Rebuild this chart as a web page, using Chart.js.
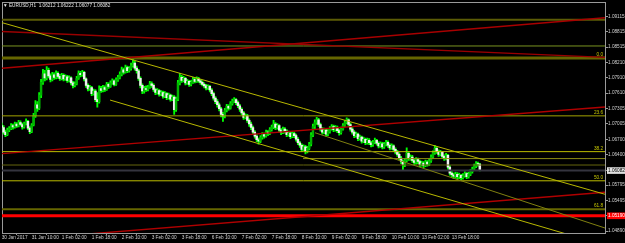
<!DOCTYPE html>
<html><head><meta charset="utf-8">
<script src="https://cdn.jsdelivr.net/npm/chart.js@4.4.1/dist/chart.umd.min.js"></script>
<style>html,body{margin:0;padding:0;background:#000;overflow:hidden}canvas{display:block}</style>
</head><body>
<canvas id="c" width="625" height="243"></canvas>
<script>
// ---- data (EURUSD H1, first bar 30 Jan 2017 18:00) ----
const symbolTitle = "\u25BC EURUSD,H1  1.06212 1.06222 1.06077 1.06082";
const opens = [
1.0697,1.0693,1.0684,1.0679,1.0688,1.0691,1.0697,1.0694,1.0700,1.0696,1.0703,1.0699,1.0694,1.0701,1.0705,1.0692,1.0685,1.0698,
1.0716,1.0738,1.0731,1.0757,1.0782,1.0799,
1.0791,1.0806,1.0795,1.0788,1.0797,1.0792,1.0800,1.0794,1.0790,1.0796,1.0789,1.0793,1.0786,1.0791,1.0781,1.0776,1.0779,1.0790,1.0800,1.0797,
1.0802,1.0789,1.0776,1.0769,1.0772,1.0760,1.0765,1.0748,1.0744,
1.0770,1.0766,1.0772,1.0768,1.0778,1.0774,1.0781,1.0785,1.0778,1.0787,
1.0792,1.0798,1.0807,1.0802,1.0811,1.0805,1.0809,1.0815,1.0820,1.0810,
1.0805,1.0790,1.0776,1.0765,
1.0770,1.0768,1.0772,1.0779,1.0776,1.0768,1.0762,1.0766,1.0759,1.0762,1.0755,1.0760,1.0752,1.0757,1.0749,
1.0753,1.0728,1.0749,1.0781,
1.0792,1.0786,1.0790,1.0781,1.0784,1.0778,1.0782,1.0788,1.0784,1.0789,1.0785,1.0782,1.0778,1.0775,1.0771,1.0774,
1.0767,1.0760,1.0751,1.0744,1.0738,1.0730,1.0719,
1.0716,1.0727,1.0735,1.0731,1.0740,1.0745,1.0748,1.0742,
1.0736,1.0729,1.0722,1.0713,1.0716,1.0707,
1.0700,1.0693,1.0684,1.0676,1.0669,1.0666,1.0673,1.0679,1.0676,1.0684,1.0681,1.0689,1.0694,1.0700,1.0693,1.0697,1.0688,1.0683,1.0690,1.0686,1.0679,1.0682,1.0675,1.0681,1.0677,
1.0670,1.0663,1.0658,1.0650,1.0655,1.0646,1.0652,
1.0660,1.0678,1.0695,1.0703,
1.0708,1.0699,1.0690,1.0684,1.0688,1.0680,1.0685,1.0691,1.0695,1.0689,1.0693,1.0687,1.0683,1.0690,
1.0697,1.0703,1.0708,
1.0699,1.0690,1.0684,1.0677,1.0680,1.0671,1.0674,1.0666,1.0670,
1.0663,1.0668,1.0663,1.0659,1.0664,1.0668,1.0662,1.0657,1.0661,1.0655,1.0660,1.0664,1.0658,1.0653,1.0657,
1.0650,1.0645,1.0640,1.0633,1.0626,1.0620,1.0628,1.0642,
1.0632,1.0635,1.0628,1.0624,1.0630,1.0626,1.0620,1.0623,1.0618,1.0625,1.0621,
1.0627,1.0635,1.0643,1.0652,
1.0646,1.0640,1.0644,1.0636,1.0632,
1.0638,1.0615,
1.0603,1.0600,1.0597,1.0601,1.0596,1.0599,1.0594,1.0598,1.0602,1.0596,1.0601,
1.0606,1.0611,1.0617,1.0622,1.06212];
const highs = [
1.0702,1.0697,1.0688,1.0692,1.0695,1.0701,1.0700,1.0704,1.0703,1.0707,
1.0706,1.0702,1.0704,1.0710,1.0707,1.0695,1.0701,1.0721,1.0746,1.0744,
1.0762,1.0788,1.0808,1.0806,1.0813,1.0810,1.0799,1.0802,1.0801,1.0805,
1.0803,1.0798,1.0800,1.0799,1.0797,1.0796,1.0795,1.0793,1.0784,1.0783,
1.0794,1.0805,1.0804,1.0806,1.0804,1.0791,1.0779,1.0776,1.0774,1.0769,
1.0768,1.0762,1.0775,1.0774,1.0776,1.0775,1.0782,1.0781,1.0785,1.0789,
1.0787,1.0791,1.0796,1.0803,1.0812,1.0810,1.0816,1.0814,1.0813,1.0820,
1.0829,1.0824,1.0814,1.0808,1.0793,1.0779,1.0774,1.0775,1.0776,1.0784,
1.0783,1.0779,1.0771,1.0770,1.0768,1.0766,1.0765,1.0764,1.0762,1.0761,
1.0759,1.0757,1.0756,1.0753,1.0786,1.0800,1.0796,1.0794,1.0792,1.0788,
1.0786,1.0786,1.0792,1.0791,1.0793,1.0792,1.0788,1.0785,1.0781,1.0778,
1.0777,1.0776,1.0770,1.0763,1.0754,1.0748,1.0741,1.0733,1.0723,1.0731,
1.0739,1.0738,1.0744,1.0749,1.0752,1.0750,1.0745,1.0739,1.0732,1.0725,
1.0720,1.0719,1.0710,1.0704,1.0696,1.0687,1.0679,1.0672,1.0677,1.0683,
1.0682,1.0688,1.0687,1.0693,1.0698,1.0707,1.0703,1.0701,1.0699,1.0691,
1.0694,1.0693,1.0689,1.0686,1.0684,1.0685,1.0684,1.0680,1.0673,1.0666,
1.0661,1.0659,1.0658,1.0656,1.0664,1.0683,1.0700,1.0708,1.0713,1.0711,
1.0702,1.0693,1.0692,1.0690,1.0689,1.0695,1.0699,1.0698,1.0697,1.0696,
1.0690,1.0694,1.0701,1.0707,1.0712,1.0710,1.0702,1.0693,1.0687,1.0684,
1.0682,1.0678,1.0676,1.0674,1.0672,1.0672,1.0671,1.0666,1.0668,1.0672,
1.0670,1.0665,1.0665,1.0664,1.0664,1.0668,1.0667,1.0661,1.0661,1.0659,
1.0653,1.0648,1.0643,1.0636,1.0629,1.0632,1.0653,1.0645,1.0639,1.0638,
1.0631,1.0634,1.0633,1.0629,1.0627,1.0626,1.0629,1.0628,1.0631,1.0639,
1.0647,1.0658,1.0655,1.0649,1.0648,1.0646,1.0639,1.0642,1.0640,1.0618,
1.0607,1.0603,1.0605,1.0604,1.0603,1.0601,1.0602,1.0606,1.0604,1.0605,
1.0610,1.0615,1.0621,1.0626,1.0625,1.06222];
const lows = [
1.0688,1.0680,1.0675,1.0677,1.0685,1.0689,1.0690,1.0692,1.0693,1.0694,
1.0696,1.0690,1.0692,1.0698,1.0689,1.0681,1.0683,1.0696,1.0713,1.0725,
1.0728,1.0752,1.0778,1.0785,1.0787,1.0791,1.0783,1.0785,1.0788,1.0789,
1.0790,1.0786,1.0787,1.0785,1.0786,1.0782,1.0783,1.0777,1.0771,1.0773,
1.0777,1.0788,1.0793,1.0794,1.0785,1.0772,1.0765,1.0766,1.0756,1.0757,
1.0744,1.0733,1.0741,1.0762,1.0763,1.0764,1.0766,1.0770,1.0772,1.0778,
1.0775,1.0776,1.0784,1.0789,1.0795,1.0798,1.0800,1.0801,1.0802,1.0806,
1.0812,1.0806,1.0800,1.0786,1.0771,1.0760,1.0761,1.0764,1.0765,1.0770,
1.0772,1.0764,1.0758,1.0759,1.0755,1.0756,1.0751,1.0752,1.0748,1.0749,
1.0745,1.0746,1.0719,1.0725,1.0746,1.0777,1.0782,1.0783,1.0777,1.0778,
1.0774,1.0775,1.0780,1.0781,1.0782,1.0782,1.0778,1.0775,1.0771,1.0767,
1.0768,1.0763,1.0756,1.0747,1.0740,1.0733,1.0726,1.0714,1.0705,1.0712,
1.0724,1.0727,1.0729,1.0737,1.0742,1.0738,1.0732,1.0725,1.0718,1.0709,
1.0710,1.0703,1.0695,1.0689,1.0680,1.0672,1.0665,1.0660,1.0663,1.0670,
1.0672,1.0674,1.0677,1.0679,1.0686,1.0691,1.0689,1.0690,1.0684,1.0679,
1.0681,1.0682,1.0675,1.0676,1.0671,1.0673,1.0673,1.0666,1.0659,1.0654,
1.0646,1.0647,1.0641,1.0643,1.0649,1.0657,1.0675,1.0691,1.0699,1.0695,
1.0686,1.0680,1.0681,1.0676,1.0677,1.0682,1.0688,1.0685,1.0686,1.0683,
1.0678,1.0680,1.0688,1.0694,1.0700,1.0695,1.0686,1.0680,1.0673,1.0674,
1.0667,1.0668,1.0662,1.0663,1.0659,1.0660,1.0659,1.0655,1.0656,1.0661,
1.0658,1.0653,1.0654,1.0651,1.0652,1.0657,1.0654,1.0649,1.0650,1.0646,
1.0641,1.0636,1.0629,1.0622,1.0610,1.0616,1.0625,1.0628,1.0628,1.0624,
1.0620,1.0621,1.0622,1.0616,1.0617,1.0614,1.0616,1.0617,1.0618,1.0624,
1.0632,1.0640,1.0642,1.0636,1.0637,1.0632,1.0628,1.0629,1.0611,1.0599,
1.0595,1.0592,1.0593,1.0591,1.0592,1.0589,1.0591,1.0595,1.0592,1.0593,
1.0598,1.0603,1.0608,1.0614,1.0617,1.06077];
const closes = [
1.0693,1.0684,1.0679,1.0688,1.0691,1.0697,1.0694,1.0700,1.0696,1.0703,1.0699,1.0694,1.0701,1.0705,1.0692,1.0685,1.0698,1.0716,
1.0738,1.0731,1.0757,1.0782,1.0799,1.0791,
1.0806,1.0795,1.0788,1.0797,1.0792,1.0800,1.0794,1.0790,1.0796,1.0789,1.0793,1.0786,1.0791,1.0781,1.0776,1.0779,1.0790,1.0800,1.0797,1.0802,
1.0789,1.0776,1.0769,1.0772,1.0760,1.0765,1.0748,1.0744,1.0770,
1.0766,1.0772,1.0768,1.0778,1.0774,1.0781,1.0785,1.0778,1.0787,1.0792,
1.0798,1.0807,1.0802,1.0811,1.0805,1.0809,1.0815,1.0820,1.0810,1.0805,
1.0790,1.0776,1.0765,1.0770,
1.0768,1.0772,1.0779,1.0776,1.0768,1.0762,1.0766,1.0759,1.0762,1.0755,1.0760,1.0752,1.0757,1.0749,1.0753,
1.0728,1.0749,1.0781,1.0792,
1.0786,1.0790,1.0781,1.0784,1.0778,1.0782,1.0788,1.0784,1.0789,1.0785,1.0782,1.0778,1.0775,1.0771,1.0774,1.0767,
1.0760,1.0751,1.0744,1.0738,1.0730,1.0719,1.0716,
1.0727,1.0735,1.0731,1.0740,1.0745,1.0748,1.0742,1.0736,
1.0729,1.0722,1.0713,1.0716,1.0707,1.0700,
1.0693,1.0684,1.0676,1.0669,1.0666,1.0673,1.0679,1.0676,1.0684,1.0681,1.0689,1.0694,1.0700,1.0693,1.0697,1.0688,1.0683,1.0690,1.0686,1.0679,1.0682,1.0675,1.0681,1.0677,1.0670,
1.0663,1.0658,1.0650,1.0655,1.0646,1.0652,1.0660,
1.0678,1.0695,1.0703,1.0708,
1.0699,1.0690,1.0684,1.0688,1.0680,1.0685,1.0691,1.0695,1.0689,1.0693,1.0687,1.0683,1.0690,1.0697,
1.0703,1.0708,1.0699,
1.0690,1.0684,1.0677,1.0680,1.0671,1.0674,1.0666,1.0670,1.0663,
1.0668,1.0663,1.0659,1.0664,1.0668,1.0662,1.0657,1.0661,1.0655,1.0660,1.0664,1.0658,1.0653,1.0657,1.0650,
1.0645,1.0640,1.0633,1.0626,1.0620,1.0628,1.0642,1.0632,
1.0635,1.0628,1.0624,1.0630,1.0626,1.0620,1.0623,1.0618,1.0625,1.0621,1.0627,
1.0635,1.0643,1.0652,1.0646,
1.0640,1.0644,1.0636,1.0632,1.0638,
1.0615,1.0603,
1.0600,1.0597,1.0601,1.0596,1.0599,1.0594,1.0598,1.0602,1.0596,1.0601,1.0606,
1.0611,1.0617,1.0622,1.06212,1.06082];

const xTickBars = [0,16,32,48,64,80,96,112,128,144,160,176,192,208,224,240];
const xTickLabels = ["30 Jan 2017","31 Jan 10:00","1 Feb 02:00","1 Feb 18:00","2 Feb 10:00","3 Feb 02:00","3 Feb 18:00",
 "6 Feb 10:00","7 Feb 02:00","7 Feb 18:00","8 Feb 10:00","9 Feb 02:00","9 Feb 18:00","10 Feb 10:00","13 Feb 02:00","13 Feb 18:00"];
const yTickValues = [1.09115,1.08815,1.08515,1.08210,1.07910,1.07610,1.07305,1.07005,1.06700,1.06400,1.06082,1.05795,1.05495,1.05190,1.04890];
const bidPrice = 1.06082;
const alertPrice = 1.05190;

// horizontal levels (price) and fibonacci labels
const levelPrices   = [1.09056, 1.08538, 1.08300, 1.07160, 1.06455, 1.06318, 1.06191, 1.06082, 1.05880, 1.05320, 1.05190];
const levelStartBar = [null,    null,    null,    null,    null,    160.7,   null,    null,    null,    null,    null];
const fiboPrices = [1.08300, 1.07160, 1.06455, 1.05880, 1.05320];
const fiboNames  = ["0.0", "23.6", "38.2", "50.0", "61.8"];

// trend lines: start/end bar index and price
const lineStartBar   = [0.16,    57.8,    167.1,   0.16,    0.16,    0.16,    0.16];
const lineStartPrice = [1.08998, 1.07472, 1.06827, 1.08822, 1.08098, 1.06416, 1.04694];
const lineEndBar     = [321.76,  321.76,  321.76,  321.76,  321.76,  321.76,  321.76];
const lineEndPrice   = [1.05614, 1.04608, 1.04949, 1.08313, 1.09095, 1.07335, 1.05653];

// ---- view & styles ----
const X_MIN = 0.16, X_MAX = 321.76, Y_MIN = 1.048509, Y_MAX = 1.093888;
const levelStyles = [
 {c:'#5c5c06',w:2},{c:'#7a9420',w:1},{c:'#666600',w:3},{c:'#a4a400',w:1},{c:'#bcbc00',w:1},
 {c:'#8c8c14',w:1},{c:'#66660e',w:1},{c:'#34343e',w:2},{c:'#bcbc00',w:1},{c:'#666600',w:2},{c:'#ff0000',w:3}];
const lineStyles = [
 {c:'#b8b800',w:1},{c:'#b8b800',w:1},{c:'#808010',w:1},
 {c:'#9a0000',w:1.4},{c:'#a80000',w:1.4},{c:'#b00000',w:1.4},{c:'#b00000',w:1.4}];
const AXIS = '#9a9a9a', TXT = '#d0d0d0', FONT = {family:'Liberation Sans', size:4.7};

const datasets = [];
levelPrices.forEach((p,i)=>{
  datasets.push({type:'line', data:[{x: levelStartBar[i]===null ? X_MIN : levelStartBar[i], y:p},{x:X_MAX,y:p}],
    borderColor: levelStyles[i].c, borderWidth: levelStyles[i].w, pointRadius:0, fill:false, order:1});
});
lineStartBar.forEach((s,i)=>{
  datasets.push({type:'line', data:[{x:s,y:lineStartPrice[i]},{x:lineEndBar[i],y:lineEndPrice[i]}],
    borderColor: lineStyles[i].c, borderWidth: lineStyles[i].w, pointRadius:0, fill:false, order:0});
});
datasets.push({type:'bar', data: highs.map((h,i)=>({x:i, y:[lows[i], h]})), backgroundColor:'#00ff00',
  barThickness:1.2, grouped:false, order:5});
datasets.push({type:'bar', data: opens.map((o,i)=>({x:i, y:[o, closes[i]]})),
  backgroundColor: opens.map((o,i)=> closes[i] < o ? '#f0f0f0' : '#00b400'),
  barThickness:1.8, grouped:false, order:4});

const textPlugin = {
  id:'textPlugin',
  afterDatasetsDraw(chart){
    const {ctx, chartArea:a, scales:{y}} = chart;
    ctx.save();
    ctx.font = '4.7px "Liberation Sans"';
    ctx.fillStyle = '#c8c800'; ctx.textAlign = 'right'; ctx.textBaseline = 'alphabetic';
    fiboPrices.forEach((p,i)=> ctx.fillText(fiboNames[i], a.right - 2, y.getPixelForValue(p) - 2));
    ctx.fillStyle = '#e8e8e8'; ctx.textAlign = 'left'; ctx.textBaseline = 'top';
    ctx.fillText(symbolTitle, a.left + 1, 3);
    ctx.restore();
  }
};

new Chart(document.getElementById('c'), {
  type:'bar',
  data:{datasets},
  plugins:[textPlugin],
  options:{
    responsive:false, animation:false, devicePixelRatio:1,
    layout:{padding:0},
    plugins:{legend:{display:false}, tooltip:{enabled:false}, title:{display:false}},
    scales:{
      x:{type:'linear', position:'bottom', min:X_MIN, max:X_MAX, offset:false,
        grid:{display:true, drawOnChartArea:false, drawTicks:true, tickLength:2, color:AXIS},
        border:{display:true, color:AXIS},
        ticks:{autoSkip:false, maxRotation:0, minRotation:0, align:'start', padding:0, color:TXT, font:FONT,
          callback:(v,i)=> xTickLabels[i]},
        afterBuildTicks: s => { s.ticks = xTickBars.map(v=>({value:v})); },
        afterFit: s => { s.height = 10; }},
      y:{type:'linear', position:'right', min:Y_MIN, max:Y_MAX,
        grid:{display:true, drawOnChartArea:false, drawTicks:true, tickLength:3, color:AXIS},
        border:{display:true, color:AXIS},
        ticks:{autoSkip:false, padding:0, font:FONT,
          color: c => c.tick && c.tick.value===bidPrice ? '#000000' : (c.tick && c.tick.value===alertPrice ? '#ffffff' : TXT),
          showLabelBackdrop:true,
          backdropPadding:{top:0.5,bottom:0.5,left:1,right:6},
          backdropColor: c => c.tick && c.tick.value===bidPrice ? '#e0e0e0' : (c.tick && c.tick.value===alertPrice ? '#ff0000' : 'rgba(0,0,0,0)'),
          callback: v => v.toFixed(5)},
        afterBuildTicks: s => { s.ticks = yTickValues.map(v=>({value:v})); },
        afterFit: s => { s.width = 20; }},
      xTop:{type:'linear', position:'top', display:true, grid:{display:false}, ticks:{display:false},
        border:{display:true, color:AXIS}, afterFit: s => { s.height = 1; }},
      yLeft:{type:'linear', position:'left', display:true, grid:{display:false}, ticks:{display:false},
        border:{display:true, color:AXIS}, afterFit: s => { s.width = 2; }}
    }
  }
});
</script>
</body></html>
